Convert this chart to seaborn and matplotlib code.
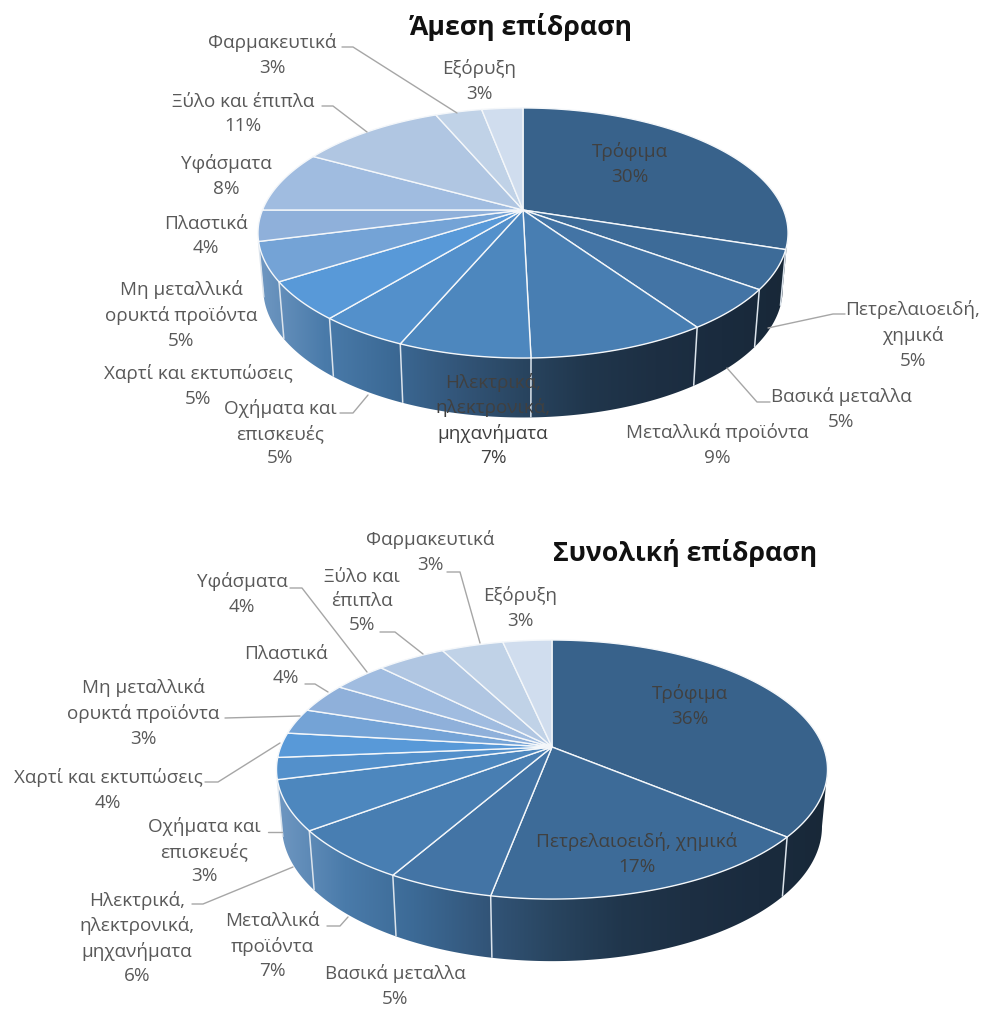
import numpy as np
import matplotlib
matplotlib.use("Agg")
import matplotlib.pyplot as plt
import seaborn as sns
from matplotlib.patches import Polygon

sectors_direct = ["Τρόφιμα", "Πετρελαιοειδή, χημικά", "Βασικά μεταλλα", "Μεταλλικά προϊόντα",
                  "Ηλεκτρικά, ηλεκτρονικά, μηχανήματα", "Οχήματα και επισκευές", "Χαρτί και εκτυπώσεις",
                  "Μη μεταλλικά ορυκτά προϊόντα", "Πλαστικά", "Υφάσματα", "Ξύλο και έπιπλα",
                  "Φαρμακευτικά", "Εξόρυξη"]
values_direct = [30, 5, 5.4, 9.2, 6.8, 4.6, 5, 5, 4, 8, 10.6, 3.4, 3]
values_total = [36, 17, 5.3, 6.5, 6.2, 2.7, 3.1, 3.2, 3.7, 3.8, 4.8, 4.3, 3.4]
title_direct = "Άμεση επίδραση"
title_total = "Συνολική επίδραση"

labels_direct = ["Τρόφιμα\n30%", "Πετρελαιοειδή,\nχημικά\n5%", "Βασικά μεταλλα\n5%", "Μεταλλικά προϊόντα\n9%",
                 "Ηλεκτρικά,\nηλεκτρονικά,\nμηχανήματα\n7%", "Οχήματα και\nεπισκευές\n5%",
                 "Χαρτί και εκτυπώσεις\n5%", "Μη μεταλλικά\nορυκτά προϊόντα\n5%", "Πλαστικά\n4%",
                 "Υφάσματα\n8%", "Ξύλο και έπιπλα\n11%", "Φαρμακευτικά\n3%", "Εξόρυξη\n3%"]
labels_total = ["Τρόφιμα\n36%", "Πετρελαιοειδή, χημικά\n17%", "Βασικά μεταλλα\n5%", "Μεταλλικά\nπροϊόντα\n7%",
                "Ηλεκτρικά,\nηλεκτρονικά,\nμηχανήματα\n6%", "Οχήματα και\nεπισκευές\n3%",
                "Χαρτί και εκτυπώσεις\n4%", "Μη μεταλλικά\nορυκτά προϊόντα\n3%", "Πλαστικά\n4%",
                "Υφάσματα\n4%", "Ξύλο και\nέπιπλα\n5%", "Φαρμακευτικά\n3%", "Εξόρυξη\n3%"]

# layout (pixels)
pos_direct = [(630, 164), (913, 335), (841, 409), (717, 445), (493, 420), (280, 433), (198, 386),
              (181, 315), (206, 236), (226, 176), (243, 114), (272, 55), (479, 81)]
pos_total = [(690, 706), (637, 854), (395, 986), (272, 946), (137, 938), (204, 851), (108, 790),
             (143, 713), (286, 666), (242, 594), (362, 601), (430, 552), (520, 608)]
dark_direct = {0, 4}
dark_total = {0, 1}
leaders_direct = [[(768, 328), (833, 314), (845, 314)], [(727, 368), (757, 402), (770, 402)],
                  [(368, 395), (353, 413), (340, 413)], [(322, 106), (333, 106), (367, 132)],
                  [(342, 47), (353, 47), (457, 113)]]
leaders_total = [[(305, 684), (315, 684), (328, 692)], [(225, 718), (300, 716)],
                 [(205, 782), (218, 782), (280, 743)], [(268, 832), (282, 832)],
                 [(192, 904), (203, 904), (293, 867)], [(327, 926), (340, 926), (348, 917)],
                 [(290, 588), (302, 588), (367, 672)], [(380, 632), (395, 632), (423, 654)],
                 [(447, 572), (460, 572), (480, 643)]]

sns.set_theme(style="white")
FONT = "Open Sans"
plt.rcParams["font.family"] = [FONT, "DejaVu Sans"]

face_colors = (sns.blend_palette(["#38628B", "#5899D8"], 7)
               + sns.blend_palette(["#5899D8", "#74A3D6", "#8FB0DA", "#A0BCE0", "#B0C6E2", "#C0D2E7", "#D0DDEE"], 7)[1:])
side_ramp = np.array(sns.blend_palette(["#7098C2", "#4A7BAA", "#3C6A96", "#33567A", "#294560", "#20364C",
                                        "#1D2F43", "#1A2B3E", "#182838"], 256))[:, :3]


def project(theta, cx, cy, a, b, k, dy=0.0, sx=1.0, sy=1.0):
    u, v = np.sin(theta), -np.cos(theta)
    d = 1 - k * v
    return cx + sx * a * u / d, cy + dy + sy * b * v / d


def draw_pie(ax, values, cx, cy, a, b, k, dy, sx, sy):
    vals = np.asarray(values, float)
    edges = 2 * np.pi * np.concatenate([[0], np.cumsum(vals)]) / vals.sum()
    # side wall: a horizontal gradient clipped to the front of the extruded rim
    t0 = np.arccos(-k)
    th = np.linspace(t0, 2 * np.pi - t0, 600)
    xt, yt = project(th, cx, cy, a, b, k)
    xb, yb = project(th, cx, cy, a, b, k, dy, sx, sy)
    outline = np.column_stack([np.r_[xt, xb[::-1]], np.r_[yt, yb[::-1]]])
    left, right = cx - a * 1.02, cx + a * 1.02
    top, bottom = cy - 10, yb.max() + 5
    img = ax.imshow(side_ramp[None, :, :], extent=(left, right, bottom, top), aspect="auto",
                    interpolation="bilinear", zorder=1)
    img.set_clip_path(Polygon(outline, closed=True, transform=ax.transData))
    # slice separators on the visible wall
    for e in edges[:-1]:
        if np.cos(e) < -0.15:
            x0, y0 = project(e, cx, cy, a, b, k)
            x1, y1 = project(e, cx, cy, a, b, k, dy, sx, sy)
            ax.plot([x0, x1], [y0, y1], color="#DCE4EC", lw=1.1, zorder=2, solid_capstyle="butt")
    # top face
    for i, c in enumerate(face_colors):
        t = np.linspace(edges[i], edges[i + 1], 200)
        x, y = project(t, cx, cy, a, b, k)
        ax.fill(np.r_[cx, x], np.r_[cy, y], facecolor=c, edgecolor="#F4F7FA", lw=1.0, zorder=3,
                joinstyle="round")


def annotate(ax, labels, pos, dark, leaders, title, tpos):
    for i, (s, p) in enumerate(zip(labels, pos)):
        ax.text(p[0], p[1], s, ha="center", va="center", fontsize=13.6, linespacing=1.45,
                color="#404040" if i in dark else "#595959", zorder=6)
    for line in leaders:
        xs, ys = zip(*line)
        ax.plot(xs, ys, color="#A6A6A6", lw=1.0, zorder=5)
    ax.text(tpos[0], tpos[1], title, ha="center", va="center", fontsize=19.2, fontweight="bold",
            color="#111111", zorder=6)


fig = plt.figure(figsize=(9.84, 10.09), dpi=100, facecolor="white")
ax = fig.add_axes([0, 0, 1, 1])

draw_pie(ax, values_direct, 523, 210, 260.5, 120.8, 0.184, 55, 0.98, 1.03)
draw_pie(ax, values_total, 552, 747, 271.3, 125.6, 0.174, 56, 0.98, 1.04)
annotate(ax, labels_direct, pos_direct, dark_direct, leaders_direct, title_direct, (521, 27))
annotate(ax, labels_total, pos_total, dark_total, leaders_total, title_total, (685, 553))

ax.set_xlim(0, 984)
ax.set_ylim(1009, 0)
ax.axis("off")

fig.savefig("out.png", dpi=100)
